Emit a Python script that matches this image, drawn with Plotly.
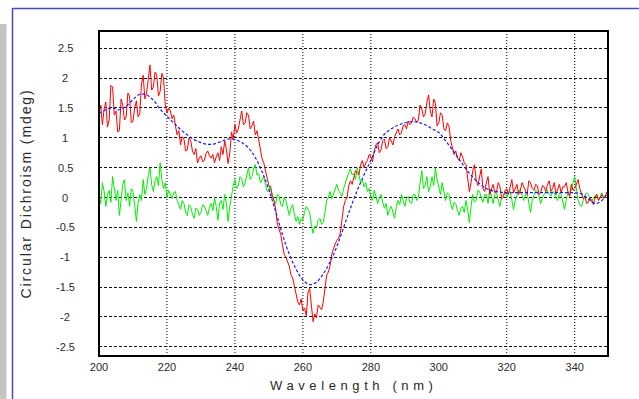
import plotly.graph_objects as go

# Wavelength grid (nm): 0.5 nm steps from 200 to 350 nm
wavelength = [200 + 0.5 * i for i in range(301)]

# Measured CD signal (mdeg)
measured = [
    1.40, 1.55, 1.22, 1.48, 1.60, 1.18, 1.30, 1.88, 1.85, 1.38,
    1.45, 1.10, 1.12, 1.65, 1.55, 1.30, 1.35, 1.75, 1.70, 1.25,
    1.28, 1.50, 1.62, 1.35, 1.40, 1.90, 2.05, 1.65, 1.75, 1.95,
    2.22, 1.80, 1.85, 2.10, 2.05, 1.70, 1.78, 2.08, 2.00, 1.55,
    1.42, 1.50, 1.45, 1.32, 1.38, 1.20, 1.05, 1.12, 0.88, 1.02,
    0.98, 0.78, 0.80, 1.00, 0.95, 0.78, 0.72, 0.82, 0.58, 0.66,
    0.70, 0.60, 0.62, 0.74, 0.78, 0.70, 0.66, 0.72, 0.58, 0.68,
    0.75, 0.62, 0.85, 0.72, 0.95, 0.80, 0.57, 0.75, 1.10, 0.98,
    1.22, 1.08, 1.15, 1.30, 1.45, 1.22, 1.25, 1.42, 1.38, 1.15,
    1.20, 1.28, 1.05, 1.12, 0.95, 0.78, 0.65, 0.58, 0.45, 0.35,
    0.20, 0.15, 0.02, -0.05, -0.20, -0.45, -0.55, -0.62, -0.80, -0.95,
    -1.00, -1.08, -1.15, -1.30, -1.35, -1.48, -1.62, -1.75, -1.80, -1.70,
    -1.90, -1.85, -1.98, -1.60, -1.52, -1.85, -2.08, -1.95, -2.02, -1.80,
    -1.85, -1.88, -1.75, -1.55, -1.30, -1.25, -1.15, -0.95, -0.85, -0.78,
    -0.72, -0.68, -0.60, -0.35, -0.15, -0.05, 0.00, 0.20, 0.28, 0.22,
    0.35, 0.45, 0.42, 0.38, 0.55, 0.62, 0.50, 0.58, 0.62, 0.72,
    0.68, 0.60, 0.78, 0.88, 0.92, 0.75, 0.80, 0.95, 0.98, 0.82,
    0.85, 1.00, 0.95, 0.88, 1.02, 1.10, 1.15, 1.05, 1.08, 1.20,
    1.22, 1.15, 1.28, 1.22, 1.25, 1.35, 1.32, 1.26, 1.30, 1.55,
    1.48, 1.35, 1.40, 1.60, 1.72, 1.45, 1.35, 1.65, 1.58, 1.20,
    1.25, 1.42, 1.38, 1.15, 1.12, 1.25, 1.20, 0.95, 0.85, 0.72,
    0.78, 0.66, 0.62, 0.75, 0.68, 0.58, 0.55, 0.30, 0.10, 0.25,
    0.45, 0.55, 0.30, 0.20, 0.38, 0.48, 0.15, 0.10, 0.25, 0.35,
    0.05, 0.12, 0.22, 0.08, 0.10, 0.25, 0.18, -0.02, 0.00, 0.12,
    0.15, 0.05, 0.20, 0.30, 0.08, 0.15, 0.22, 0.05, 0.12, 0.25,
    0.18, 0.10, 0.05, 0.28, 0.25, 0.15, 0.12, 0.22, 0.20, 0.05,
    0.08, 0.20, 0.18, 0.10, 0.22, 0.28, 0.10, 0.15, 0.25, 0.05,
    0.12, 0.22, 0.08, 0.18, 0.18, 0.25, 0.10, 0.02, 0.22, 0.12,
    0.15, 0.22, 0.30, 0.15, 0.05, -0.02, 0.02, -0.10, -0.08, 0.00,
    -0.05, -0.12, 0.00, 0.05, -0.05, 0.00, 0.05, -0.02, 0.02, 0.10,
    0.08,
]

# Residual (measured - fit), mdeg
residual = [
    0.05, -0.10, 0.25, 0.10, -0.15, 0.05, 0.12, -0.08, 0.35, 0.18,
    -0.05, 0.12, -0.30, -0.05, 0.22, 0.30, -0.05, 0.08, -0.15, 0.15,
    0.10, -0.12, -0.40, -0.10, 0.05, -0.05, 0.30, 0.05, 0.15, 0.38,
    0.50, 0.22, 0.10, 0.28, 0.35, 0.20, 0.58, 0.30, 0.15, 0.25,
    0.00, 0.12, 0.05, -0.02, 0.08, 0.10, -0.05, -0.12, -0.20, -0.05,
    -0.10, -0.25, -0.30, -0.12, -0.15, -0.28, -0.35, -0.18, -0.20, -0.30,
    -0.25, -0.12, -0.15, -0.22, -0.30, -0.18, -0.10, -0.22, 0.00, -0.15,
    -0.38, -0.10, -0.05, -0.20, 0.05, -0.10, -0.40, -0.15, 0.05, 0.20,
    0.30, 0.15, 0.20, 0.35, 0.32, 0.18, 0.25, 0.40, 0.50, 0.30,
    0.35, 0.48, 0.55, 0.38, 0.40, 0.25, 0.30, 0.35, 0.22, 0.10,
    0.12, 0.20, 0.05, -0.05, -0.10, 0.05, 0.02, -0.12, -0.15, 0.00,
    -0.05, -0.20, -0.30, -0.18, -0.12, -0.28, -0.40, -0.32, -0.45, -0.35,
    -0.38, -0.25, -0.15, -0.20, -0.25, -0.45, -0.60, -0.48, -0.50, -0.38,
    -0.35, -0.45, -0.42, -0.25, -0.05, 0.00, 0.10, -0.02, 0.05, 0.15,
    0.22, 0.12, 0.08, 0.02, 0.15, 0.25, 0.35, 0.42, 0.48, 0.38,
    0.40, 0.30, 0.50, 0.35, 0.25, 0.30, 0.18, 0.25, 0.10, 0.15,
    0.00, -0.05, 0.12, 0.02, -0.10, 0.00, 0.05, -0.08, -0.18, -0.10,
    -0.30, -0.20, -0.15, -0.25, -0.35, -0.15, -0.05, -0.12, 0.05, -0.05,
    -0.15, -0.02, 0.02, -0.08, -0.10, 0.05, 0.05, -0.05, 0.00, 0.25,
    0.45, 0.15, 0.20, 0.35, 0.10, 0.18, 0.35, 0.20, 0.50, 0.30,
    0.15, 0.05, 0.25, 0.10, -0.05, 0.08, 0.05, -0.10, -0.20, -0.08,
    -0.10, -0.22, -0.30, -0.18, -0.15, -0.25, -0.05, -0.20, -0.42, -0.15,
    0.05, -0.08, -0.05, 0.12, 0.10, -0.02, -0.08, 0.05, 0.05, -0.10,
    0.15, 0.02, -0.10, 0.05, 0.08, -0.05, -0.15, 0.02, 0.05, 0.10,
    0.00, 0.08, 0.10, -0.05, -0.20, -0.05, 0.05, 0.12, 0.12, 0.02,
    -0.05, 0.05, 0.08, -0.10, -0.25, -0.05, 0.05, 0.12, 0.10, 0.02,
    -0.10, 0.00, 0.05, 0.10, 0.12, 0.05, 0.02, 0.10, 0.08, -0.02,
    -0.05, 0.08, 0.05, -0.08, -0.20, -0.05, 0.10, 0.02, 0.15, 0.25,
    0.35, 0.10, -0.05, -0.12, -0.15, -0.05, 0.02, 0.08, 0.05, -0.02,
    -0.08, 0.00, 0.02, 0.05, -0.05, 0.02, 0.08, 0.00, 0.00, 0.05,
    0.05,
]

# Smooth fitted curve, 2 nm steps
fit_wavelength = list(range(200, 351, 2))
fit = [
    1.41, 1.47, 1.50, 1.47, 1.53, 1.64, 1.73, 1.72, 1.63, 1.48,
    1.36, 1.25, 1.14, 1.05, 0.97, 0.92, 0.89, 0.90, 0.94, 0.98,
    0.97, 0.92, 0.83, 0.67, 0.43, 0.13, -0.24, -0.62, -0.95, -1.20,
    -1.38, -1.46, -1.42, -1.28, -1.08, -0.82, -0.50, -0.18, 0.12, 0.38,
    0.62, 0.88, 1.06, 1.15, 1.21, 1.25, 1.27, 1.26, 1.22, 1.15,
    1.09, 0.95, 0.80, 0.64, 0.48, 0.34, 0.23, 0.15, 0.11, 0.09,
    0.08, 0.08, 0.08, 0.08, 0.08, 0.08, 0.08, 0.08, 0.08, 0.08,
    0.08, 0.06, -0.02, -0.10, -0.05, 0.13,
]

# Axis ticks
x_ticks = [200, 220, 240, 260, 280, 300, 320, 340]
x_tick_text = ["200", "220", "240", "260", "280", "300", "320", "340"]
x_grid = [220, 240, 260, 280, 320, 340]
y_ticks = [2.5, 2, 1.5, 1, 0.5, 0, -0.5, -1, -1.5, -2, -2.5]
y_tick_text = ["2.5", "2", "1.5", "1", "0.5", "0", "-0.5", "-1", "-1.5", "-2", "-2.5"]

W, H = 639, 399
L, R, T, B = 99, 31, 31, 43
PW, PH = W - L - R, H - T - B


def px_x(p):
    return (p - L) / PW


def px_y(p):
    return (H - B - p) / PH


FONT = "Liberation Sans, Arial, sans-serif"
TXT = "#2a2a2a"

fig = go.Figure()
fig.add_trace(go.Scatter(x=wavelength, y=residual, mode="lines",
                         line=dict(color="#00ee00", width=1), name="residual"))
fig.add_trace(go.Scatter(x=wavelength, y=measured, mode="lines",
                         line=dict(color="#ff0000", width=1), name="measured"))
fig.add_trace(go.Scatter(x=fit_wavelength, y=fit, mode="lines",
                         line=dict(color="#1a1aff", width=1.2, dash="3px,2px"),
                         line_shape="spline", name="fit"))

shapes = []
# vertical dotted grid lines
for g in x_grid:
    shapes.append(dict(type="line", xref="x", yref="paper", x0=g, x1=g, y0=0, y1=1,
                       line=dict(color="#000000", width=1, dash="1px,2px"), layer="below"))
# plot frame
shapes.append(dict(type="rect", xref="paper", yref="paper", x0=0, x1=1, y0=0, y1=1,
                   line=dict(color="black", width=2)))
# window decorations: grey strip and blue frame lines
shapes.append(dict(type="rect", xref="paper", yref="paper",
                   x0=px_x(0), x1=px_x(6.5), y0=px_y(24), y1=px_y(400),
                   fillcolor="#c4c4c4", line=dict(width=0)))
shapes.append(dict(type="line", xref="paper", yref="paper",
                   x0=px_x(12.5), x1=px_x(12.5), y0=px_y(8), y1=px_y(400),
                   line=dict(color="#4a4ab8", width=1.5)))
shapes.append(dict(type="line", xref="paper", yref="paper",
                   x0=px_x(12.5), x1=px_x(640), y0=px_y(8.5), y1=px_y(8.5),
                   line=dict(color="#4a4ab8", width=1.5)))

annotations = []
for v, t in zip(y_ticks, y_tick_text):
    annotations.append(dict(text=t, xref="paper", yref="y", x=px_x(65), y=v,
                            xanchor="center", yanchor="middle", showarrow=False,
                            font=dict(family=FONT, size=11, color=TXT)))
annotations.append(dict(text='<span style="letter-spacing:4.6px">Wavelength (nm)</span>',
                        xref="paper", yref="paper", x=0.5, y=px_y(385),
                        xanchor="center", yanchor="middle", showarrow=False,
                        font=dict(family=FONT, size=13, color=TXT)))
annotations.append(dict(text='<span style="letter-spacing:1.9px">Circular Dichroism (mdeg)</span>',
                        xref="paper", yref="paper", x=px_x(25), y=0.5, textangle=-90,
                        xanchor="center", yanchor="middle", showarrow=False,
                        font=dict(family=FONT, size=14, color=TXT)))

fig.update_layout(
    width=W, height=H,
    margin=dict(l=L, r=R, t=T, b=B, pad=0),
    paper_bgcolor="white", plot_bgcolor="white",
    showlegend=False,
    shapes=shapes,
    annotations=annotations,
    xaxis=dict(range=[200, 349.8], tickvals=x_ticks, ticktext=x_tick_text,
               showgrid=False, zeroline=False, showline=False, ticks="",
               ticklabelstandoff=3,
               tickfont=dict(family=FONT, size=11, color=TXT)),
    yaxis=dict(range=[-2.656, 2.79], tickvals=y_ticks, showticklabels=False,
               showgrid=True, gridcolor="#111111", gridwidth=1, griddash="3px,2px",
               zeroline=False, showline=False, ticks=""),
)

fig.write_html("out.html")
